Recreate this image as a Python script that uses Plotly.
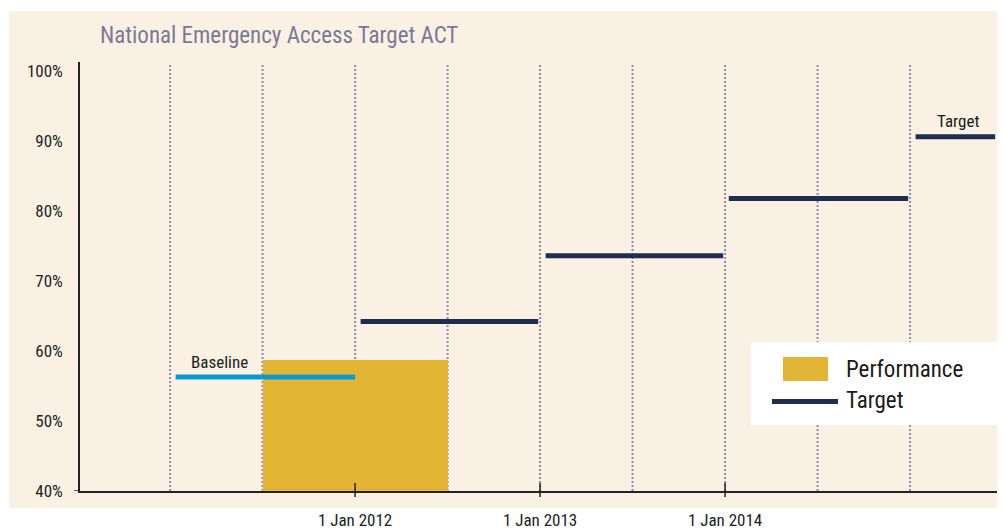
import plotly.graph_objects as go

# ---- data ----
title_text = "National Emergency Access Target ACT"
perf_period = [2011.5, 2012.5]      # financial year 2011-12
perf_value = [58.7]
baseline_span = [2011.03, 2012.0]
baseline_value = 56.3
target_starts = [2012.03, 2013.03, 2014.02, 2015.03]
target_ends = [2012.99, 2013.99, 2014.99, 2015.46]
target_values = [64.2, 73.6, 81.8, 90.6]
period_marks = [2011.0, 2011.5, 2012.0, 2012.5, 2013.0, 2013.5, 2014.0, 2014.5, 2015.0]
x_tick_vals = [2012, 2013, 2014]
x_tick_text = ["1 Jan 2012", "1 Jan 2013", "1 Jan 2014"]
y_tick_vals = [40, 50, 60, 70, 80, 90, 100]
y_tick_text = ["40%", "50%", "60%", "70%", "80%", "90%", "100%"]

# ---- style ----
W, H = 1005, 530
OFF = 8  # page body margin
# plot area in screen pixels
L, R, T, B = 80, 997, 62, 491
FONT = "Roboto Condensed, Liberation Sans Narrow, sans-serif"
BG = "#FAF1E4"
NAVY = "#1F2E4F"
BLUE = "#0A9AD2"
GOLD = "#E3B535"
DOT = "#8F8CA9"
TITLE_C = "#7B7A93"
TXT = "#1a1a1a"


def px(x):
    return (x - L) / (R - L)


def py(y):
    return (B - y) / (B - T)


fig = go.Figure()

fig.add_trace(go.Bar(
    x=[(perf_period[0] + perf_period[1]) / 2], y=[v - 40 for v in perf_value], base=40,
    width=perf_period[1] - perf_period[0], marker=dict(color=GOLD, line=dict(width=0)),
    showlegend=False, hoverinfo="skip"))

fig.add_trace(go.Scatter(
    x=baseline_span, y=[baseline_value, baseline_value], mode="lines",
    line=dict(color=BLUE, width=5), showlegend=False, hoverinfo="skip"))

for s, e, v in zip(target_starts, target_ends, target_values):
    fig.add_trace(go.Scatter(x=[s, e], y=[v, v], mode="lines",
                             line=dict(color=NAVY, width=5), showlegend=False,
                             hoverinfo="skip"))

shapes = []
# panel background
shapes.append(dict(type="rect", xref="paper", yref="paper", x0=px(9), x1=px(1020),
                   y0=py(508), y1=py(11), fillcolor=BG, line=dict(width=0), layer="below"))
# dotted period lines
for m in period_marks:
    shapes.append(dict(type="line", xref="x", yref="paper", x0=m, x1=m, y0=0, y1=py(65),
                       line=dict(color=DOT, width=2, dash="2px,2px"), layer="below"))
# axis ticks crossing the x axis
for t in x_tick_vals:
    shapes.append(dict(type="line", xref="x", yref="paper", x0=t, x1=t,
                       y0=py(497), y1=py(483), line=dict(color="#222", width=1.5)))
shapes.append(dict(type="line", xref="paper", yref="paper", x0=px(998), x1=px(998),
                   y0=py(497), y1=py(483), line=dict(color="#222", width=1.5)))
shapes.append(dict(type="line", xref="paper", yref="y", x0=px(74), x1=0,
                   y0=40, y1=40, line=dict(color="#222", width=1.5)))
# legend box
shapes.append(dict(type="rect", xref="paper", yref="paper", x0=px(751), x1=px(1001),
                   y0=py(425), y1=py(342), fillcolor="white", line=dict(width=0)))
shapes.append(dict(type="rect", xref="paper", yref="paper", x0=px(783), x1=px(828),
                   y0=py(381), y1=py(357), fillcolor=GOLD, line=dict(width=0)))
shapes.append(dict(type="line", xref="paper", yref="paper", x0=px(772), x1=px(838),
                   y0=py(401.5), y1=py(401.5), line=dict(color=NAVY, width=5)))

annotations = [
    dict(text=title_text, xref="paper", yref="paper", x=px(98), y=py(35),
         xanchor="left", yanchor="middle", showarrow=False,
         font=dict(family=FONT, size=23, color=TITLE_C)),
    dict(text="Baseline", xref="x", yref="y", x=sum(baseline_span) / 2 - 0.25,
         y=baseline_value, yshift=15, xanchor="center", yanchor="middle",
         showarrow=False, font=dict(family=FONT, size=17, color=TXT)),
    dict(text="Target", xref="x", yref="y", x=(target_starts[-1] + target_ends[-1]) / 2 + 0.015,
         y=target_values[-1], yshift=16, xanchor="center", yanchor="middle",
         showarrow=False, font=dict(family=FONT, size=17, color=TXT)),
    dict(text="Performance", xref="paper", yref="paper", x=px(844), y=py(369),
         xanchor="left", yanchor="middle", showarrow=False,
         font=dict(family=FONT, size=23, color=TXT)),
    dict(text="Target", xref="paper", yref="paper", x=px(844), y=py(400),
         xanchor="left", yanchor="middle", showarrow=False,
         font=dict(family=FONT, size=23, color=TXT)),
]

fig.update_layout(
    width=W, height=H,
    margin=dict(l=L - OFF, r=W - (R - OFF), t=T - OFF, b=H - (B - OFF), pad=0),
    paper_bgcolor="white", plot_bgcolor="rgba(0,0,0,0)",
    shapes=shapes, annotations=annotations, showlegend=False,
    bargap=0,
    xaxis=dict(range=[2010.513, 2015.47], tickvals=x_tick_vals, ticktext=x_tick_text,
               showgrid=False, zeroline=False, showline=True, linecolor="#222",
               linewidth=1.5, ticks="", ticklabelstandoff=13, automargin=False,
               tickfont=dict(family=FONT, size=17, color="#222")),
    yaxis=dict(range=[40, 101.29], tickvals=y_tick_vals, ticktext=y_tick_text,
               showgrid=False, zeroline=False, showline=True, linecolor="#222",
               linewidth=1.5, ticks="", ticklabelstandoff=12, automargin=False,
               tickfont=dict(family=FONT, size=17, color="#222")),
)

fig.write_html("out.html")
